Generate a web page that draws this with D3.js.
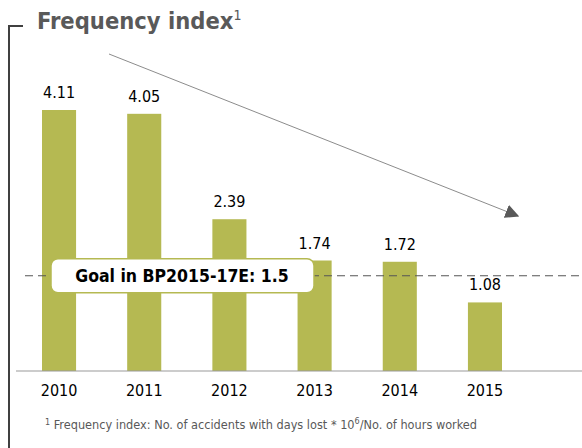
<!DOCTYPE html>
<html>
<head>
<meta charset="utf-8">
<script src="https://cdn.jsdelivr.net/npm/d3@7"></script>
<style>
  body { margin: 0; background: #fff; }
  text { font-family: "DejaVu Sans Condensed", "DejaVu Sans", sans-serif; }
</style>
</head>
<body>
<div id="chart"></div>
<script>
var years = ["2010", "2011", "2012", "2013", "2014", "2015"];
var values = [4.11, 4.05, 2.39, 1.74, 1.72, 1.08];
var labels = ["4.11", "4.05", "2.39", "1.74", "1.72", "1.08"];
var goal = 1.5;
var goalText = "Goal in BP2015-17E: 1.5";

var svg = d3.select("#chart")
    .append("svg")
    .attr("width", 582)
    .attr("height", 448);

var x = d3.scaleBand()
    .domain(years)
    .range([42, 502])
    .paddingInner(0.6)
    .paddingOuter(0);

var y = d3.scaleLinear()
    .domain([0, 4.11])
    .range([371, 110]);

// arrow head
svg.append("defs").append("marker")
    .attr("id", "head")
    .attr("viewBox", "0 0 10 10")
    .attr("refX", 9).attr("refY", 5)
    .attr("markerWidth", 14).attr("markerHeight", 14)
    .attr("markerUnits", "userSpaceOnUse")
    .attr("orient", "auto")
  .append("path")
    .attr("d", "M0,0 L10,5 L0,10 Z")
    .attr("fill", "#595959");

// left bracket
svg.append("path")
    .attr("d", "M23,26 L9,26 L9,448")
    .attr("fill", "none")
    .attr("stroke", "#404040")
    .attr("stroke-width", 2);

// title
var title = svg.append("text")
    .attr("x", 37).attr("y", 29)
    .attr("fill", "#595959")
    .attr("font-weight", "bold")
    .attr("font-size", 23.5);
title.append("tspan").text("Frequency index");
title.append("tspan").attr("font-size", 14).attr("dy", -9).attr("font-weight", "normal").text("1");

// bars
svg.selectAll(".bar")
    .data(values)
    .enter().append("rect")
    .attr("class", "bar")
    .attr("x", function (d, i) { return x(years[i]); })
    .attr("y", function (d) { return y(d); })
    .attr("width", x.bandwidth())
    .attr("height", function (d) { return y(0) - y(d); })
    .attr("fill", "#b5b952");

// value labels
svg.selectAll(".val")
    .data(values)
    .enter().append("text")
    .attr("class", "val")
    .attr("x", function (d, i) { return x(years[i]) + x.bandwidth() / 2; })
    .attr("y", function (d) { return y(d) - 12; })
    .attr("text-anchor", "middle")
    .attr("font-size", 16)
    .attr("fill", "#000")
    .text(function (d, i) { return labels[i]; });

// baseline axis
svg.append("line")
    .attr("x1", 16).attr("x2", 582)
    .attr("y1", y(0)).attr("y2", y(0))
    .attr("stroke", "#999")
    .attr("stroke-width", 1);

// year labels
var xAxis = svg.append("g")
    .attr("transform", "translate(0," + y(0) + ")")
    .call(d3.axisBottom(x).tickSize(0).tickPadding(14));
xAxis.select(".domain").remove();
xAxis.selectAll("text")
    .attr("font-size", 16)
    .attr("fill", "#000")
    .style("font-family", "'DejaVu Sans Condensed', 'DejaVu Sans', sans-serif");

// goal line
svg.append("line")
    .attr("x1", 25).attr("x2", 582)
    .attr("y1", y(goal)).attr("y2", y(goal))
    .attr("stroke", "#555")
    .attr("stroke-width", 1.2)
    .attr("stroke-dasharray", "8,5");

// goal box
svg.append("rect")
    .attr("x", 51).attr("y", y(goal) - 17)
    .attr("width", 263).attr("height", 34)
    .attr("rx", 7).attr("ry", 7)
    .attr("fill", "#fff")
    .attr("stroke", "#b5b952")
    .attr("stroke-width", 1.5);

svg.append("text")
    .attr("x", 182).attr("y", y(goal) + 6)
    .attr("text-anchor", "middle")
    .attr("font-size", 17.5)
    .attr("font-weight", "bold")
    .attr("fill", "#000")
    .text(goalText);

// trend arrow
svg.append("line")
    .attr("x1", 109).attr("y1", 54)
    .attr("x2", 518).attr("y2", 216)
    .attr("stroke", "#8c8c8c")
    .attr("stroke-width", 1)
    .attr("marker-end", "url(#head)");

// footnote
var note = svg.append("text")
    .attr("x", 45).attr("y", 429)
    .attr("font-size", 12.6)
    .attr("fill", "#595959");
note.append("tspan").attr("font-size", 9).attr("dy", -4).text("1");
note.append("tspan").attr("dy", 4).text(" Frequency index: No. of accidents with days lost * 10");
note.append("tspan").attr("font-size", 9).attr("dy", -5).text("6");
note.append("tspan").attr("dy", 5).text("/No. of hours worked");
</script>
</body>
</html>
